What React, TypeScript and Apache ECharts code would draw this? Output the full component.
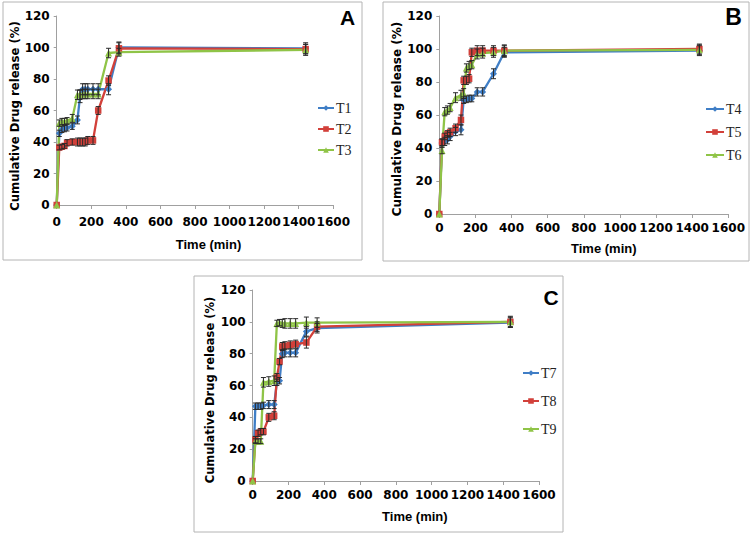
import React, { useEffect, useRef } from "react";
import * as echarts from "echarts";

// Sampling times (min), shared by all formulations
const times = [0, 15, 30, 45, 60, 90, 120, 135, 150, 165, 180, 210, 240, 300, 360, 1440];

// Panel A
const T1 = [0, 45.5, 48, 48.5, 49, 50, 54, 69, 73.5, 73.5, 73.5, 73.5, 73.5, 73.5, 100, 99.5];
const T2 = [0, 36.5, 37, 37.5, 39.5, 40, 40, 40, 40, 40, 41, 41, 60, 79, 99.5, 99];
const T3 = [0, 52, 53, 53, 53.5, 55, 70, 70, 70.5, 70.5, 70.5, 70.5, 70.5, 96.5, 97, 98.5];
const E1 = [0, 2, 2, 2, 2, 2, 2.5, 4, 3.5, 3.5, 3.5, 3.5, 3.5, 3.5, 3.5, 3.5];
const E2 = [0, 1.5, 1.5, 1.5, 2, 2, 2.5, 2.5, 2.5, 2.5, 2.5, 2.5, 2.5, 3, 3.5, 3];
const E3 = [0, 2, 2, 2, 2, 2.5, 3, 3, 3, 3, 3, 3, 3, 3, 2.5, 3.5];

// Panel B
const T4 = [0, 43, 44, 45, 47, 50, 51, 69, 69.5, 70, 70, 74, 74, 85, 98, 99];
const T5 = [0, 43.5, 47, 48.5, 49.5, 52, 57, 81, 81, 82, 98, 99, 99, 99, 99, 100];
const T6 = [0, 38.5, 62, 63, 64.5, 70.5, 72, 73, 88.5, 90, 90.5, 97, 97.5, 98, 99, 99.5];
const E4 = [0, 2.5, 2.5, 2.5, 2.5, 2.5, 3, 2, 2, 2, 2, 2.5, 2.5, 3, 3, 3];
const E5 = [0, 2, 2, 2, 2.5, 2.5, 3, 2.5, 2.5, 2.5, 2.5, 3, 3, 3, 3, 3];
const E6 = [0, 2, 2.5, 2.5, 2.5, 3, 3, 3, 2.5, 2.5, 2.5, 3, 3, 3, 3.5, 3];

// Panel C
const T7 = [0, 47, 47, 47, 47.5, 48, 48, 62, 63, 80, 80.5, 80.5, 80.5, 94, 96, 99.5];
const T8 = [0, 26, 30, 31, 31, 40, 41, 65, 75, 84.5, 85, 85.5, 86, 87, 97, 100];
const T9 = [0, 25, 25, 25, 62, 62.5, 63, 99, 99.5, 99, 99, 99, 99, 99.5, 99.5, 100];
const E7 = [0, 2, 2, 2, 2, 2.5, 2.5, 2, 2, 2.5, 2.5, 2.5, 2.5, 3, 3, 3];
const E8 = [0, 2, 2, 2, 2, 2.5, 2.5, 2.5, 2, 2.5, 2.5, 2.5, 2.5, 3.5, 3, 3.5];
const E9 = [0, 1.5, 1.5, 1.5, 3, 3, 3, 2, 2, 2.5, 3, 3, 3, 3.5, 3, 3];

const panelLetters = ["A", "B", "C"];
const seriesNames = [
  ["T1", "T2", "T3"],
  ["T4", "T5", "T6"],
  ["T7", "T8", "T9"],
];
const seriesValues = [
  [T1, T2, T3],
  [T4, T5, T6],
  [T7, T8, T9],
];
const seriesErrors = [
  [E1, E2, E3],
  [E4, E5, E6],
  [E7, E8, E9],
];

const COLORS = ["#3F7EC6", "#D2403A", "#8FC447"];
const SYMBOLS = ["diamond", "rect", "triangle"];
const SYMBOL_SIZES = [7, 6.5, 7];

// Layout (pixels)
const GRIDS = [
  { left: 56.7, right: 416.7, top: 16, bottom: 330 },
  { left: 439.3, right: 21.7, top: 16, bottom: 321 },
  { left: 252.7, right: 211, top: 290, bottom: 54 },
];
const XLABEL_MARGIN = [11, 8, 8];
const XNAME_GAP = [32.5, 27.5, 29];
const XNAME_SHIFT = [27, 40, 38];
const YNAME_GAP = [30, 33, 37];
const YNAME_SHIFT = [11, 8, 9];
const YNAME_SIZE = [11.7, 12, 11.5];
const LEGENDS = [
  { left: 317, top: 101, itemGap: 7, itemWidth: 16 },
  { left: 705, top: 102, itemGap: 9, itemWidth: 18 },
  { left: 522, top: 366, itemGap: 14, itemWidth: 16 },
];
const BOXES = [
  { x: 3, y: 2, width: 359, height: 258 },
  { x: 383, y: 2, width: 366, height: 259 },
  { x: 194, y: 276, width: 369, height: 256 },
];
const LETTER_POS = [
  { x: 347.6, y: 17.5, size: 21 },
  { x: 733.5, y: 16.5, size: 23 },
  { x: 551, y: 297.5, size: 21 },
];

const AXIS_GREY = "#A0A0A0";

function buildOption() {
  const grid: any[] = [];
  const xAxis: any[] = [];
  const yAxis: any[] = [];
  const series: any[] = [];
  const legend: any[] = [];
  const graphic: any[] = [];

  for (let p = 0; p < 3; p++) {
    grid.push({ ...GRIDS[p], containLabel: false });
    xAxis.push({
      type: "value",
      gridIndex: p,
      min: 0,
      max: 1600,
      interval: 200,
      splitLine: { show: false },
      axisLine: { show: true, onZero: false, lineStyle: { color: AXIS_GREY, width: 1 } },
      axisTick: { show: true, length: 4, lineStyle: { color: AXIS_GREY } },
      axisLabel: {
        fontFamily: "DejaVu Sans",
        fontWeight: "bold",
        fontSize: 12,
        color: "#000",
        margin: XLABEL_MARGIN[p],
        formatter: (v: number) => String(v),
      },
      name: "Time (min)",
      nameLocation: "middle",
      nameGap: XNAME_GAP[p],
      nameTextStyle: {
        fontFamily: "Liberation Sans",
        fontWeight: "bold",
        fontSize: 13,
        color: "#000",
        padding: [0, 0, 0, XNAME_SHIFT[p]],
      },
    });
    yAxis.push({
      type: "value",
      gridIndex: p,
      min: 0,
      max: 120,
      interval: 20,
      splitLine: { show: false },
      axisLine: { show: true, lineStyle: { color: AXIS_GREY, width: 1 } },
      axisTick: { show: true, length: 3, lineStyle: { color: AXIS_GREY } },
      axisLabel: {
        fontFamily: "DejaVu Sans",
        fontWeight: "bold",
        fontSize: 12,
        color: "#000",
        margin: 7,
        formatter: (v: number) => String(v),
      },
      name: "Cumulative Drug release (%)",
      nameLocation: "middle",
      nameGap: YNAME_GAP[p],
      nameTextStyle: {
        fontFamily: "DejaVu Sans",
        fontWeight: "bold",
        fontSize: YNAME_SIZE[p],
        color: "#000",
        padding: [0, YNAME_SHIFT[p], 0, 0],
      },
    });

    for (let s = 0; s < 3; s++) {
      const vals = seriesValues[p][s];
      const errs = seriesErrors[p][s];
      series.push({
        type: "line",
        name: seriesNames[p][s],
        xAxisIndex: p,
        yAxisIndex: p,
        data: times.map((t, i) => [t, vals[i]]),
        symbol: SYMBOLS[s],
        symbolSize: SYMBOL_SIZES[s],
        showAllSymbol: true,
        clip: false,
        color: COLORS[s],
        lineStyle: { color: COLORS[s], width: 2.3 },
        itemStyle: { color: COLORS[s] },
        z: 2,
      });
      series.push({
        type: "custom",
        xAxisIndex: p,
        yAxisIndex: p,
        silent: true,
        clip: false,
        z: 3,
        data: times.map((t, i) => [t, vals[i], errs[i]]),
        renderItem: (params: any, api: any) => {
          const x = api.value(0);
          const y = api.value(1);
          const e = api.value(2);
          if (!e) return null;
          const top = api.coord([x, y + e]);
          const bot = api.coord([x, y - e]);
          const w = 2.5;
          const st = { stroke: "#2A2A2A", lineWidth: 1 };
          return {
            type: "group",
            children: [
              { type: "line", shape: { x1: top[0], y1: top[1], x2: bot[0], y2: bot[1] }, style: st },
              { type: "line", shape: { x1: top[0] - w, y1: top[1], x2: top[0] + w, y2: top[1] }, style: st },
              { type: "line", shape: { x1: bot[0] - w, y1: bot[1], x2: bot[0] + w, y2: bot[1] }, style: st },
            ],
          };
        },
      });
    }

    legend.push({
      data: seriesNames[p],
      orient: "vertical",
      left: LEGENDS[p].left,
      top: LEGENDS[p].top,
      itemGap: LEGENDS[p].itemGap,
      itemWidth: LEGENDS[p].itemWidth,
      itemHeight: 7,
      padding: 0,
      selectedMode: false,
      textStyle: { fontFamily: "Liberation Serif", fontSize: 14, color: "#222", padding: [0, 0, 0, -3] },
    });

    graphic.push({
      type: "rect",
      shape: { ...BOXES[p] },
      style: { fill: "none", stroke: "#B4B4B4", lineWidth: 1 },
      silent: true,
      z: 0,
    });
    graphic.push({
      type: "text",
      x: LETTER_POS[p].x,
      y: LETTER_POS[p].y,
      style: {
        text: panelLetters[p],
        font: `bold ${LETTER_POS[p].size}px "Liberation Sans"`,
        fill: "#000",
        textAlign: "center",
        textVerticalAlign: "middle",
      },
      silent: true,
    });
  }

  return {
    animation: false,
    backgroundColor: "#fff",
    grid,
    xAxis,
    yAxis,
    series,
    legend,
    graphic,
  };
}

export default function App() {
  const ref = useRef<HTMLDivElement>(null);
  useEffect(() => {
    if (!ref.current) return;
    const chart = echarts.init(ref.current, null, { renderer: "svg" });
    chart.setOption(buildOption() as any);
    return () => chart.dispose();
  }, []);
  return (
    <div
      ref={ref}
      style={{ position: "absolute", left: 0, top: 0, width: 750, height: 535, background: "#fff" }}
    />
  );
}
